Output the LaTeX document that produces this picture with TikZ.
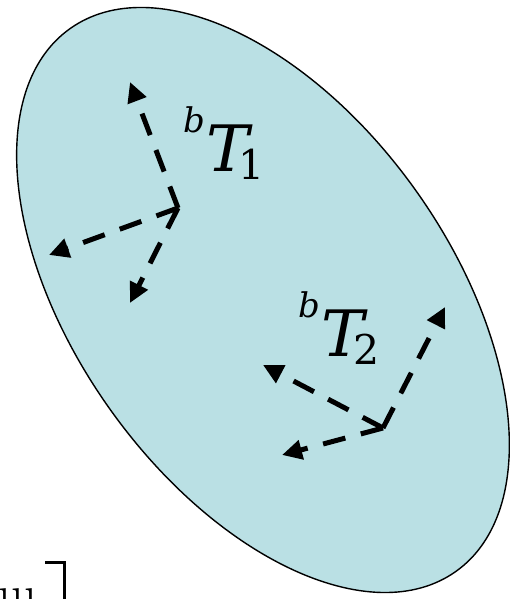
\documentclass[tikz,border=0pt]{standalone}
\usepackage{fontspec}
\usepackage{tikz}
\usetikzlibrary{arrows.meta}
\newfontfamily\labelfont{DejaVu Serif}
\definecolor{bodycyan}{RGB}{186,224,228}
\newcommand{\framename}[1]{%
    {\fontsize{34}{34}\selectfont\itshape\raisebox{39pt}{b}}\kern2pt%
    {\itshape T}\kern-11pt%
    \raisebox{-8pt}{\fontsize{41}{41}\selectfont #1}}

\begin{document}
\begin{tikzpicture}[x=1pt, y=1pt,
    every node/.style={inner sep=0pt, outer sep=0pt},
    framelabel/.style={anchor=base west, font=\labelfont\fontsize{64}{70}\selectfont},
    axisarrow/.style={line width=5pt, dash pattern=on 23pt off 16pt,
        -{Triangle[length=20pt, width=19pt]}}]
    \useasboundingbox (0,0) rectangle (510,599);
    \clip (0,0) rectangle (510,599);
    % rigid body
    \draw[fill=bodycyan, line width=1.4pt, rotate around={-54.6:(263,299)}]
        (263,299) ellipse [x radius=333, y radius=188];
    % frame 1
    \coordinate (o1) at (178,391);
    \coordinate (o1a) at (130,517);
    \coordinate (o1b) at (49,344);
    \coordinate (o1c) at (130,296);
    % frame 2
    \coordinate (o2) at (383,171);
    \coordinate (o2a) at (445,292);
    \coordinate (o2b) at (263,234);
    \coordinate (o2c) at (282,144);
    \foreach \tip in {o1a, o1b, o1c} {
        \draw[axisarrow] (o1) -- (\tip);
    }
    \foreach \tip in {o2a, o2b, o2c} {
        \draw[axisarrow] (o2) -- (\tip);
    }
    \node[framelabel] (lblone) at (183,427) {\framename{1}};
    \node[framelabel] (lbltwo) at (298,242) {\framename{2}};
    % cut-off matrix at the lower left
    \node[anchor=base east, font=\fontsize{50}{60}\selectfont] (cutoff) at (37,-12) {uu};
    \draw[line width=3pt] (45,36) -- (64,36) -- (64,-5);
\end{tikzpicture}
\end{document}
